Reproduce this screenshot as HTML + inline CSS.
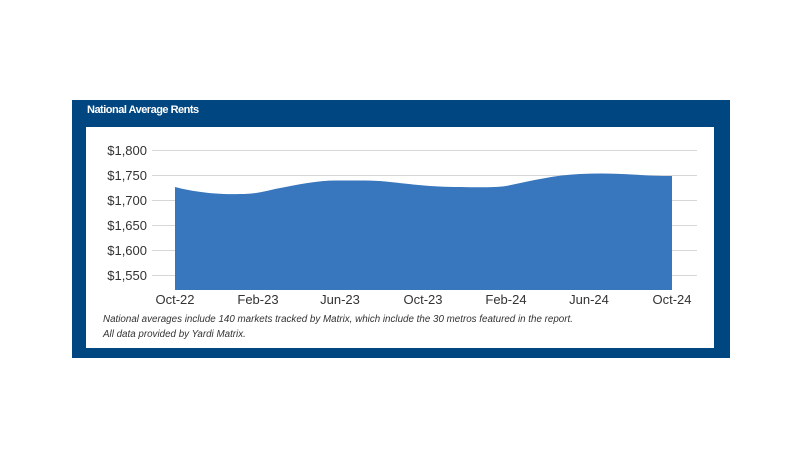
<!DOCTYPE html>
<html><head><style>
body{margin:0;background:#fff;width:800px;height:459px;position:relative;font-family:"Liberation Sans",sans-serif;}
#box{position:absolute;left:72px;top:100px;width:658px;height:258px;background:#004680;}
#title{position:absolute;left:87px;top:104px;color:#fff;font-weight:bold;font-size:11px;letter-spacing:-0.5px;}
#inner{position:absolute;left:86px;top:127px;width:628px;height:221px;background:#fff;}
.note{position:absolute;left:103px;font-style:italic;font-size:9.8px;color:#333;}
</style></head><body>
<div id="box"></div>
<div id="title">National Average Rents</div>
<div id="inner"></div>
<svg width="800" height="459" style="position:absolute;left:0;top:0" font-family="Liberation Sans, sans-serif">
<g stroke="#d6d6d6" stroke-width="1">
<line x1="152" x2="697" y1="150.5" y2="150.5"/><line x1="152" x2="697" y1="175.5" y2="175.5"/>
<line x1="152" x2="697" y1="200.5" y2="200.5"/><line x1="152" x2="697" y1="225.5" y2="225.5"/>
<line x1="152" x2="697" y1="250.5" y2="250.5"/><line x1="152" x2="697" y1="275.5" y2="275.5"/>
</g>
<path d="M175,187 C190,191 215,195 240,194 C255,194 262,192 275,189 C300,184 320,180 340,180.5 C360,180.5 375,180 390,182 C410,184 430,187 460,187 C480,187.5 495,187.5 506,186 C530,181 555,175 580,174 C600,173 620,173.5 640,175 C655,176 665,176 672,176 L672,290 L175,290 Z" fill="#3876bd"/>
<g font-size="13" fill="#333" text-anchor="end">
<text x="147" y="155">$1,800</text><text x="147" y="180">$1,750</text><text x="147" y="205">$1,700</text>
<text x="147" y="230">$1,650</text><text x="147" y="255">$1,600</text><text x="147" y="280">$1,550</text>
</g>
<g font-size="13" fill="#333" text-anchor="middle">
<text x="175" y="304">Oct-22</text><text x="258" y="304">Feb-23</text><text x="340" y="304">Jun-23</text>
<text x="423" y="304">Oct-23</text><text x="506" y="304">Feb-24</text><text x="589" y="304">Jun-24</text><text x="672" y="304">Oct-24</text>
</g>
</svg>
<div class="note" style="top:314px">National averages include 140 markets tracked by Matrix, which include the 30 metros featured in the report.</div>
<div class="note" style="top:329px">All data provided by Yardi Matrix.</div>
</body></html>
